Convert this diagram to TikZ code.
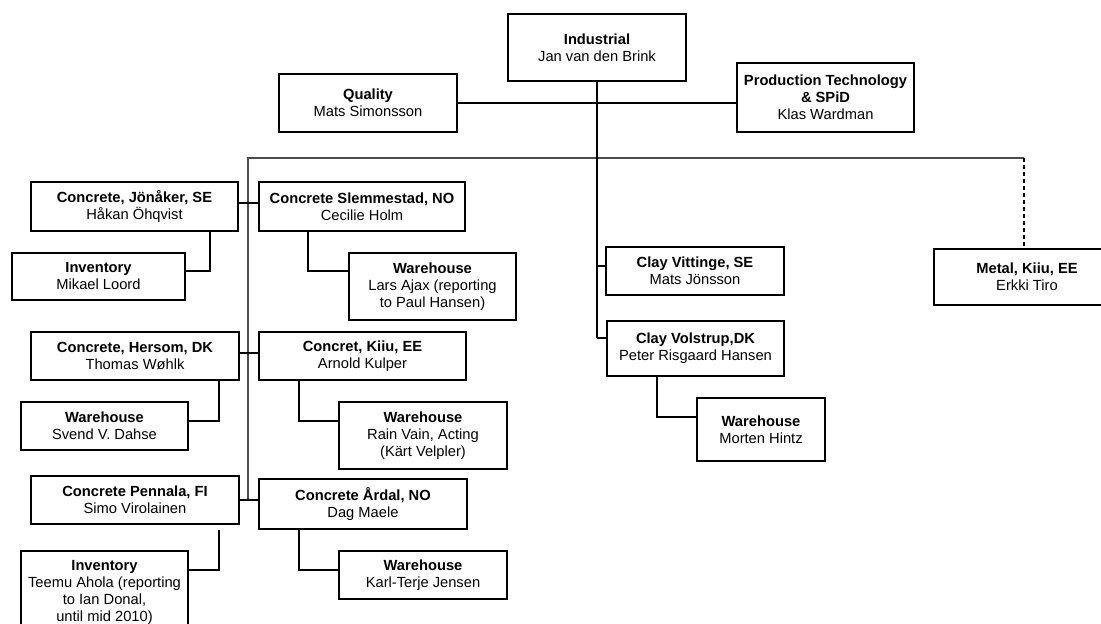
\documentclass[tikz,border=0pt]{standalone}
\usepackage{fontspec}
\setmainfont{Liberation Sans}
\begin{document}
\begin{tikzpicture}[x=1pt,y=-1pt,
  orgbox/.style={draw=black, line width=1.3pt, fill=white, inner sep=0pt, outer sep=0pt,
    align=center, font=\fontsize{14.7}{17}\selectfont},
  link/.style={draw=black, line width=1.25pt},
  bus/.style={draw=black!70, line width=2pt},
  dotted link/.style={draw=black, line width=1.2pt, dash pattern=on 4pt off 3pt}]
\useasboundingbox (0,0) rectangle (1101,624);
\fill[white] (0,0) rectangle (1101,624);
\clip (0,0) rectangle (1101,624);

% head and staff units
\node[orgbox, minimum width=178pt, minimum height=67pt] (ind)  at (597,47.5) {\textbf{Industrial}\\Jan van den Brink};
\node[orgbox, minimum width=178pt, minimum height=58pt] (qual) at (368,103) {\textbf{Quality}\\Mats Simonsson};
\node[orgbox, minimum width=177pt, minimum height=69pt] (prod) at (825.5,97.5) {\textbf{Production Technology}\\\textbf{\& SPiD}\\Klas Wardman};

% concrete plants, left column
\node[orgbox, minimum width=207pt, minimum height=49pt] (cj) at (134.5,206.5) {\textbf{Concrete, Jönåker, SE}\\Håkan Öhqvist};
\node[orgbox, minimum width=173pt, minimum height=47pt] (inv1) at (98.5,276.5) {\textbf{Inventory}\\Mikael Loord};
\node[orgbox, minimum width=208pt, minimum height=48pt] (ch) at (135,356) {\textbf{Concrete, Hersom, DK}\\Thomas Wøhlk};
\node[orgbox, minimum width=167pt, minimum height=48pt] (wh2) at (104.5,426) {\textbf{Warehouse}\\Svend V. Dahse};
\node[orgbox, minimum width=208pt, minimum height=48pt] (cp) at (135,500) {\textbf{Concrete Pennala, FI}\\Simo Virolainen};
\node[orgbox, minimum width=167pt, minimum height=83pt] (inv3) at (104.5,592.5) {\textbf{Inventory}\\Teemu Ahola (reporting\\to Ian Donal,\\until mid 2010)};

% concrete plants, right column
\node[orgbox, minimum width=206pt, minimum height=49pt] (cs) at (362,206.5) {\textbf{Concrete Slemmestad, NO}\\Cecilie Holm};
\node[orgbox, minimum width=167pt, minimum height=67pt] (wh1) at (432.5,286.5) {\textbf{Warehouse}\\Lars Ajax (reporting\\to Paul Hansen)};
\node[orgbox, minimum width=207pt, minimum height=48pt] (ck) at (362.5,356) {\textbf{Concret, Kiiu, EE}\\Arnold Kulper};
\node[orgbox, minimum width=168pt, minimum height=67pt] (wh3) at (423,435.5) {\textbf{Warehouse}\\Rain Vain, Acting\\(Kärt Velpler)};
\node[orgbox, minimum width=208pt, minimum height=50pt] (ca) at (363,504) {\textbf{Concrete Årdal, NO}\\Dag Maele};
\node[orgbox, minimum width=168pt, minimum height=48pt] (wh4) at (423,575) {\textbf{Warehouse}\\Karl-Terje Jensen};

% clay and metal
\node[orgbox, minimum width=178pt, minimum height=48pt] (cv) at (695,271) {\textbf{Clay Vittinge, SE}\\Mats Jönsson};
\node[orgbox, minimum width=177pt, minimum height=55pt] (cvo) at (695.5,348.5) {\textbf{Clay Volstrup,DK}\\Peter Risgaard Hansen};
\node[orgbox, minimum width=128pt, minimum height=63pt] (wh5) at (761,429.5) {\textbf{Warehouse}\\Morten Hintz};
\node[orgbox, minimum width=186pt, minimum height=56pt] (met) at (1027,277) {\textbf{Metal, Kiiu, EE}\\Erkki Tiro};

% junction points
\coordinate (busL) at (248,158);
\coordinate (busM) at (597,158);
\coordinate (busR) at (1024,158);
\coordinate (clayR) at (597,338);
\coordinate (trunkEnd) at (248,500);

% staff line
\draw[link] (qual.east |- 0,103) -- (prod.west |- 0,103);

% main bus and trunk
\draw[bus] (trunkEnd) -- (busL) -- (busR);
\draw[dotted link] (busR) -- (busR |- met.north);

% head down to clay units
\draw[link] (ind.south) -- (busM) -- (clayR);
\draw[link] (597,266) -- (cv.west |- 0,266);
\draw[link] (clayR) -- (cvo.west |- clayR);
\draw[link] (657,376) |- (wh5.west |- 0,417);

% trunk stubs to concrete plants
\draw[link] (cj.east |- 0,203) -- (cs.west |- 0,203);
\draw[link] (ch.east |- 0,353) -- (ck.west |- 0,353);
\draw[link] (cp.east |- trunkEnd) -- (ca.west |- trunkEnd);

% local units
\draw[link] (210,231) |- (inv1.east |- 0,271);
\draw[link] (308,231) |- (wh1.west |- 0,271);
\draw[link] (219,380) |- (wh2.east |- 0,421);
\draw[link] (299,380) |- (wh3.west |- 0,421);
\draw[link] (219,530) |- (inv3.east |- 0,570);
\draw[link] (299,529) |- (wh4.west |- 0,570);
\end{tikzpicture}
\end{document}
